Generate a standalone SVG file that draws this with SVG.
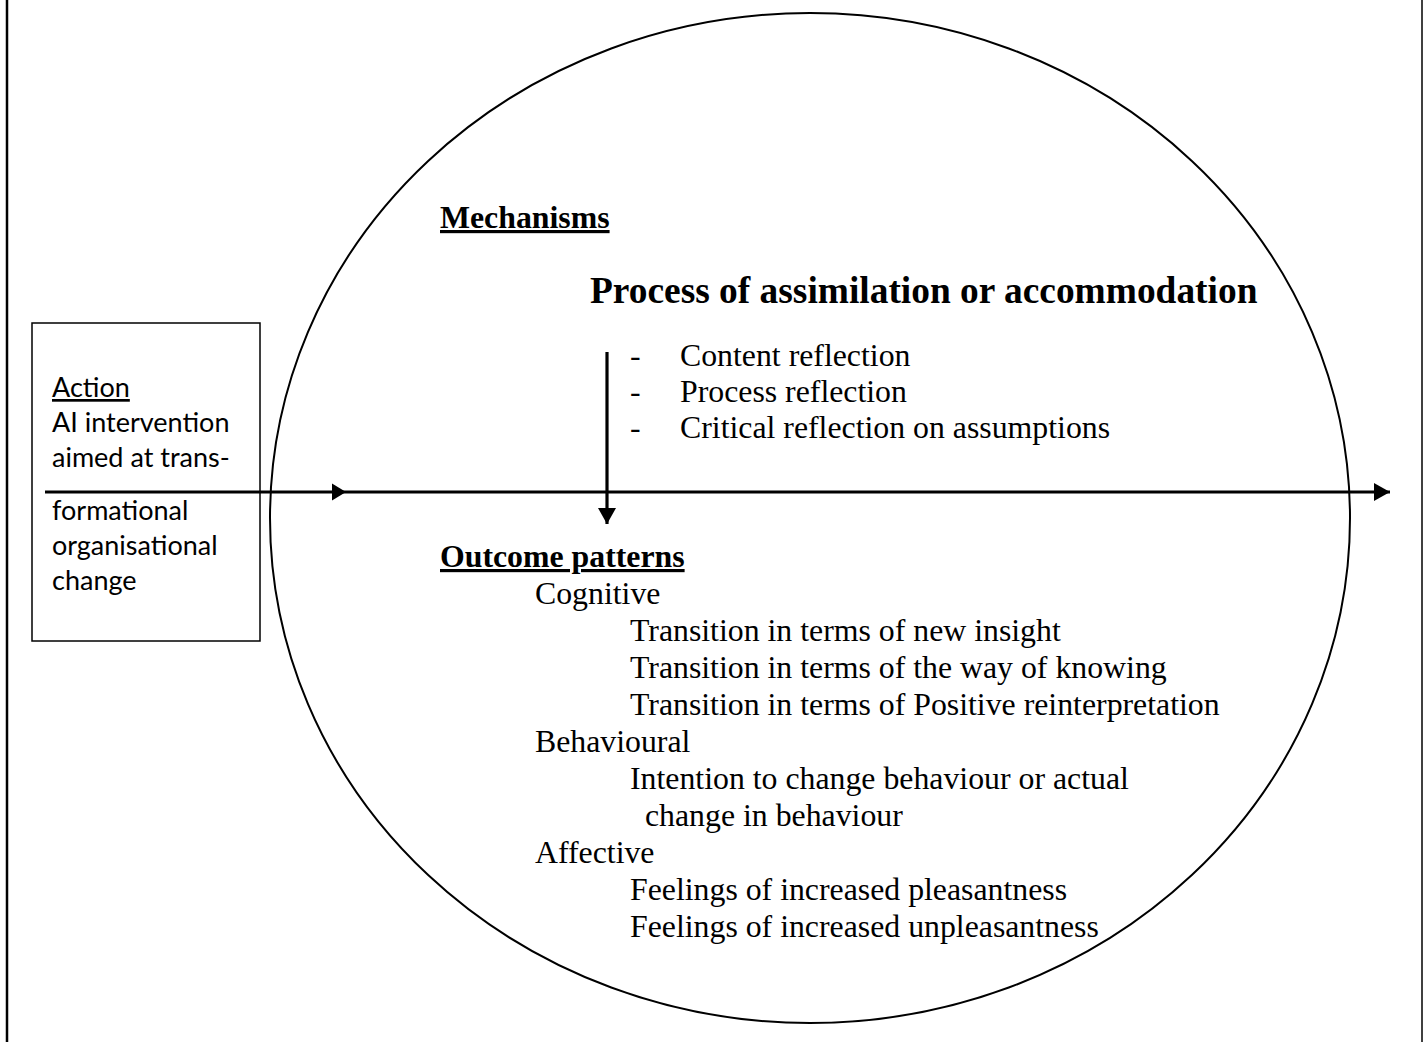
<svg xmlns="http://www.w3.org/2000/svg" width="1427" height="1042" viewBox="0 0 1427 1042">
<style>
.ser{font-family:"Liberation Serif","Times New Roman",serif;font-size:31.8px;fill:#000}
.b{font-weight:bold}
.u{text-decoration:underline}
.san{font-family:Lato,"Open Sans","Liberation Sans",sans-serif;font-size:27px;fill:#000}
.ln{stroke:#000;fill:none}
</style>
<defs>
<marker id="ah" markerUnits="userSpaceOnUse" markerWidth="17" markerHeight="19" refX="16" refY="9.5" orient="auto"><path d="M0,0.5 L16,9.5 L0,18.5 Z" fill="#000"/></marker>
</defs>
<g id="frame">
<line class="ln" x1="7" y1="0" x2="7" y2="1042" stroke-width="2.5"/>
<line class="ln" x1="1422" y1="0" x2="1422" y2="1042" stroke-width="1.5"/>
</g>
<g id="context-ellipse">
<ellipse class="ln" cx="810" cy="518" rx="540" ry="505" stroke-width="2"/>
</g>
<g id="action">
<rect class="ln" x="32" y="323" width="228" height="318" stroke-width="1.5"/>
<text class="san u" x="52" y="397">Action</text>
<text class="san" x="52" y="432">AI intervention</text>
<text class="san" x="52" y="467">aimed at trans-</text>
<text class="san" x="52" y="520">formational</text>
<text class="san" x="52" y="555">organisational</text>
<text class="san" x="52" y="590">change</text>
</g>
<g id="mechanisms">
<text class="ser b u" x="440" y="228">Mechanisms</text>
<text class="ser b" x="590" y="303" style="font-size:37.4px">Process of assimilation or accommodation</text>
<text class="ser" x="630" y="366">-</text><text class="ser" x="680" y="366">Content reflection</text>
<text class="ser" x="630" y="402">-</text><text class="ser" x="680" y="402">Process reflection</text>
<text class="ser" x="630" y="438">-</text><text class="ser" x="680" y="438">Critical reflection on assumptions</text>
</g>
<g id="outcomes">
<text class="ser b u" x="440" y="567">Outcome patterns</text>
<text class="ser" x="535" y="604">Cognitive</text>
<text class="ser" x="630" y="641">Transition in terms of new insight</text>
<text class="ser" x="630" y="678">Transition in terms of the way of knowing</text>
<text class="ser" x="630" y="715">Transition in terms of Positive reinterpretation</text>
<text class="ser" x="535" y="752">Behavioural</text>
<text class="ser" x="630" y="789">Intention to change behaviour or actual</text>
<text class="ser" x="645" y="826">change in behaviour</text>
<text class="ser" x="535" y="863">Affective</text>
<text class="ser" x="630" y="900">Feelings of increased pleasantness</text>
<text class="ser" x="630" y="937">Feelings of increased unpleasantness</text>
</g>
<g id="connectors">
<line class="ln" x1="45" y1="492" x2="1390" y2="492" stroke-width="3.2" marker-end="url(#ah)"/>
<path d="M332,483.5 L346,492 L332,500.5 Z" fill="#000"/>
<line class="ln" x1="607" y1="352" x2="607" y2="524" stroke-width="3.2" marker-end="url(#ah)"/>
</g>
</svg>
